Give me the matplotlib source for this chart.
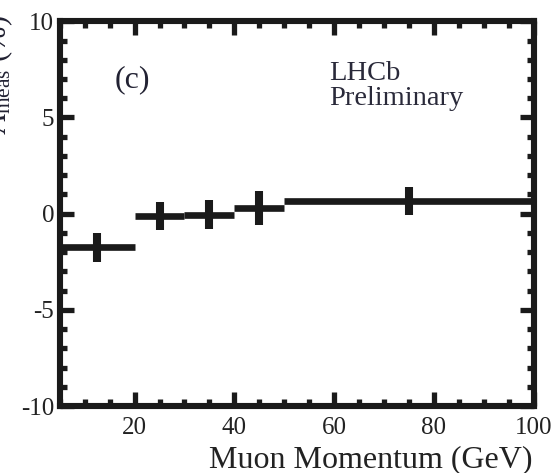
import matplotlib
matplotlib.use("Agg")
import matplotlib.pyplot as plt
from matplotlib.ticker import MultipleLocator
import numpy as np

# Momentum bins (GeV) and measured asymmetry (%)
bin_low = [5, 20, 30, 40, 50]
bin_high = [20, 30, 40, 50, 100]
asym = [-1.75, -0.1, -0.05, 0.3, 0.67]
asym_err = [0.77, 0.73, 0.77, 0.9, 0.73]
marker_x = [12.5, 25, 35, 45, 75]

plt.rcParams['font.family'] = ['Liberation Serif', 'DejaVu Serif']
plt.rcParams['mathtext.fontset'] = 'custom'
plt.rcParams['mathtext.rm'] = 'Liberation Serif'
plt.rcParams['mathtext.it'] = 'Liberation Serif:italic'
plt.rcParams['axes.unicode_minus'] = False

ink = '#1a1a1a'

fig = plt.figure(figsize=(5.54, 4.73), dpi=100)
ax = fig.add_axes([0.108, 0.1416, 0.855, 0.8134])

lo = np.array(bin_low, float)
hi = np.array(bin_high, float)
cx = np.array(marker_x, float)
# bin widths as horizontal bars, statistical errors as vertical bars
ax.errorbar(cx, asym, xerr=[cx - lo, hi - cx], fmt='none',
            ecolor=ink, elinewidth=4.8, capsize=0)
ax.errorbar(cx, asym, yerr=asym_err, fmt='none',
            ecolor=ink, elinewidth=5.8, capsize=0)

ax.set_xlim(5, 100)
ax.set_ylim(-10, 10)
ax.xaxis.set_major_locator(MultipleLocator(20))
ax.xaxis.set_minor_locator(MultipleLocator(5))
ax.yaxis.set_major_locator(MultipleLocator(5))
ax.yaxis.set_minor_locator(MultipleLocator(1))
ax.tick_params(which='both', direction='in', top=True, right=True,
               color=ink, labelsize=18, labelcolor='#222222')
ax.tick_params(axis='x', pad=8)
ax.tick_params(axis='y', pad=4)
ax.tick_params(which='major', length=10, width=3.8)
ax.tick_params(which='minor', length=5, width=3.8)
for s in ax.spines.values():
    s.set_linewidth(4.4)
    s.set_color(ink)

ax.set_xlabel('Muon Momentum (GeV)', fontsize=23, color='#222222')
ax.xaxis.set_label_coords(0.656, -0.102)
fig.text(-0.004, 0.843, r'$A_{\rm meas}$ (%)', rotation=90,
         ha='center', va='center', fontsize=22, color='#222233')

ax.text(0.116, 0.885, '(c)', transform=ax.transAxes, fontsize=23,
        va='top', color='#222233')
ax.text(0.568, 0.898, 'LHCb\nPreliminary', transform=ax.transAxes,
        fontsize=20.5, linespacing=1.02, va='top', color='#2a2a3a')

fig.savefig('out.png', dpi=100)
